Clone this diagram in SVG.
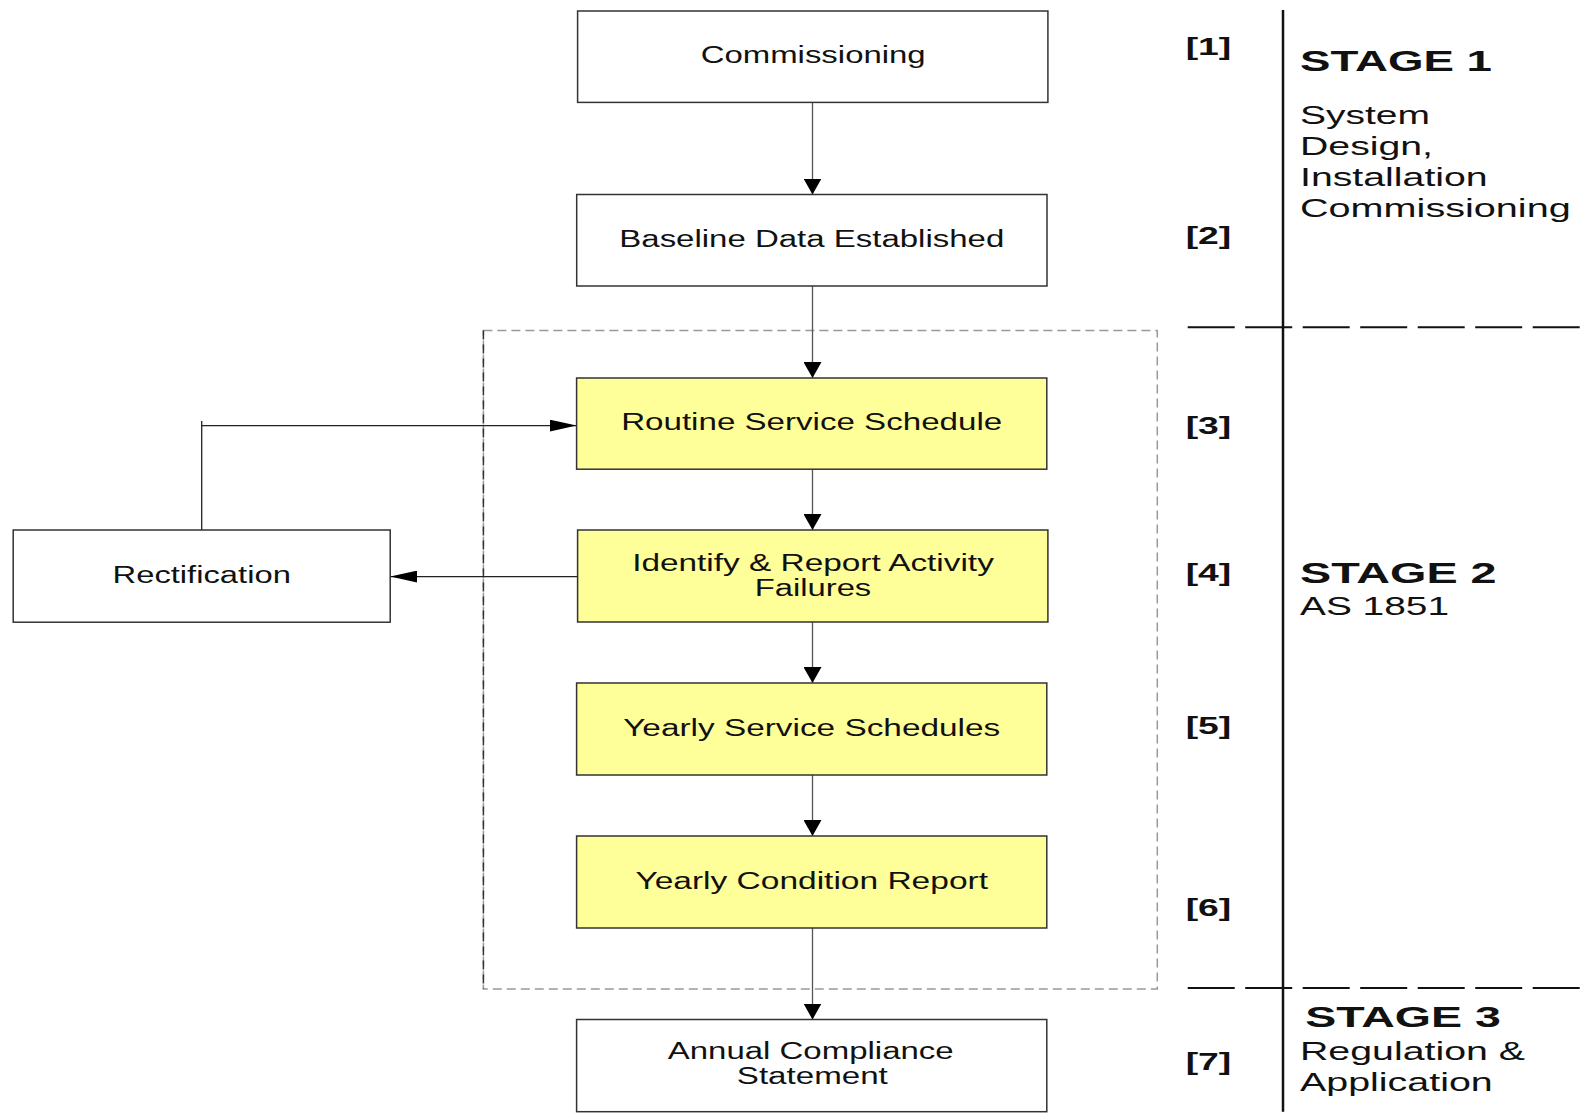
<svg xmlns="http://www.w3.org/2000/svg" width="1589" height="1117" viewBox="0 0 1589 1117">
<style>
.box{fill:#ffffff;stroke:#333333;stroke-width:1.5}
.yel{fill:#ffff99;stroke:#333333;stroke-width:1.5}
.t{font-family:"Liberation Sans",Arial,sans-serif;font-size:23px;fill:#111111;text-anchor:middle}
.lbl{font-family:"Liberation Sans",Arial,sans-serif;font-size:23px;font-weight:bold;fill:#111111}
.sh{font-family:"Liberation Sans",Arial,sans-serif;font-size:29px;font-weight:bold;fill:#111111}
.sb{font-family:"Liberation Sans",Arial,sans-serif;font-size:26px;fill:#111111}
.con{fill:none;stroke:#555555;stroke-width:1.3}
.conh{fill:none;stroke:#222222;stroke-width:1.3}
</style>
<defs>
<marker id="arrV" markerUnits="userSpaceOnUse" markerWidth="16" markerHeight="18" viewBox="0 0 16 18" refX="16" refY="9" orient="auto"><path d="M0,0 L16,9 L0,18 z" fill="#000"/></marker>
<marker id="arrH" markerUnits="userSpaceOnUse" markerWidth="27" markerHeight="12" viewBox="0 0 27 12" refX="27" refY="6" orient="auto"><path d="M0,0 L27,6 L0,12 z" fill="#000"/></marker>
</defs>
<rect width="1589" height="1117" fill="#ffffff"/>

<g id="stage-frame">
<rect x="483.4" y="330.4" width="673.9" height="658.6" fill="none" stroke="#999999" stroke-width="1.5" stroke-dasharray="9,5"/>
<line x1="483.4" y1="330.4" x2="483.4" y2="989" stroke="#333333" stroke-width="1.5" stroke-dasharray="9,5"/>
<line x1="1283" y1="10" x2="1283" y2="1111.7" stroke="#111111" stroke-width="2.5"/>
<line x1="1187.7" y1="327.3" x2="1580" y2="327.3" stroke="#111111" stroke-width="2" stroke-dasharray="47,10.5"/>
<line x1="1187.7" y1="988" x2="1580" y2="988" stroke="#111111" stroke-width="2" stroke-dasharray="47,10.5"/>
</g>

<g id="connectors">
<line class="con" x1="812.5" y1="102.4" x2="812.5" y2="194.5" marker-end="url(#arrV)"/>
<line class="con" x1="812.5" y1="286" x2="812.5" y2="378" marker-end="url(#arrV)"/>
<line class="con" x1="812.5" y1="469.2" x2="812.5" y2="530" marker-end="url(#arrV)"/>
<line class="con" x1="812.5" y1="622" x2="812.5" y2="683" marker-end="url(#arrV)"/>
<line class="con" x1="812.5" y1="775" x2="812.5" y2="836" marker-end="url(#arrV)"/>
<line class="con" x1="812.5" y1="928" x2="812.5" y2="1019.5" marker-end="url(#arrV)"/>
<path class="conh" d="M201.7,530 V421 M201.7,425.6 H576.6" marker-end="url(#arrH)"/>
<path class="conh" d="M577.6,576.6 H390.2" marker-end="url(#arrH)"/>
</g>

<g id="n1"><rect class="box" x="577.6" y="11" width="470.3" height="91.4"/><text class="t" x="813.2" y="63" textLength="225" lengthAdjust="spacingAndGlyphs">Commissioning</text></g>
<g id="n2"><rect class="box" x="576.7" y="194.5" width="470.3" height="91.5"/><text class="t" x="811.8" y="247" textLength="385" lengthAdjust="spacingAndGlyphs">Baseline Data Established</text></g>
<g id="n3"><rect class="yel" x="576.6" y="378" width="470.2" height="91.2"/><text class="t" x="811.7" y="429.6" textLength="381" lengthAdjust="spacingAndGlyphs">Routine Service Schedule</text></g>
<g id="n4"><rect class="yel" x="577.6" y="530" width="470.3" height="92"/><text class="t" x="813" y="570.5" textLength="361.7" lengthAdjust="spacingAndGlyphs">Identify &amp; Report Activity</text><text class="t" x="813" y="596" textLength="116.5" lengthAdjust="spacingAndGlyphs">Failures</text></g>
<g id="n5"><rect class="yel" x="576.6" y="683" width="470.2" height="92"/><text class="t" x="811.7" y="735.6" textLength="377" lengthAdjust="spacingAndGlyphs">Yearly Service Schedules</text></g>
<g id="n6"><rect class="yel" x="576.6" y="836" width="470.2" height="92"/><text class="t" x="811.7" y="888.6" textLength="352.6" lengthAdjust="spacingAndGlyphs">Yearly Condition Report</text></g>
<g id="n7"><rect class="box" x="576.6" y="1019.5" width="470.2" height="92.2"/><text class="t" x="810.7" y="1059" textLength="285.8" lengthAdjust="spacingAndGlyphs">Annual Compliance</text><text class="t" x="812.3" y="1084" textLength="151" lengthAdjust="spacingAndGlyphs">Statement</text></g>
<g id="rect"><rect class="box" x="13.2" y="530" width="377" height="92.2"/><text class="t" x="201.7" y="582.6" textLength="178.3" lengthAdjust="spacingAndGlyphs">Rectification</text></g>

<g id="labels">
<text class="lbl" x="1185.7" y="54.6" textLength="45.6" lengthAdjust="spacingAndGlyphs">[1]</text>
<text class="lbl" x="1185.7" y="244" textLength="45.6" lengthAdjust="spacingAndGlyphs">[2]</text>
<text class="lbl" x="1185.7" y="433.6" textLength="45.6" lengthAdjust="spacingAndGlyphs">[3]</text>
<text class="lbl" x="1185.7" y="580.6" textLength="45.6" lengthAdjust="spacingAndGlyphs">[4]</text>
<text class="lbl" x="1185.7" y="733.6" textLength="45.6" lengthAdjust="spacingAndGlyphs">[5]</text>
<text class="lbl" x="1185.7" y="916" textLength="45.6" lengthAdjust="spacingAndGlyphs">[6]</text>
<text class="lbl" x="1185.7" y="1070" textLength="45.6" lengthAdjust="spacingAndGlyphs">[7]</text>
</g>

<g id="stage1">
<text class="sh" x="1300" y="71" textLength="192" lengthAdjust="spacingAndGlyphs">STAGE 1</text>
<text class="sb" x="1300" y="124" textLength="130" lengthAdjust="spacingAndGlyphs">System</text>
<text class="sb" x="1300" y="155" textLength="133" lengthAdjust="spacingAndGlyphs">Design,</text>
<text class="sb" x="1300" y="185.5" textLength="187.7" lengthAdjust="spacingAndGlyphs">Installation</text>
<text class="sb" x="1300" y="217" textLength="270.7" lengthAdjust="spacingAndGlyphs">Commissioning</text>
</g>
<g id="stage2">
<text class="sh" x="1300" y="583" textLength="196.6" lengthAdjust="spacingAndGlyphs">STAGE 2</text>
<text class="sb" x="1300" y="615" textLength="149" lengthAdjust="spacingAndGlyphs">AS 1851</text>
</g>
<g id="stage3">
<text class="sh" x="1305.3" y="1027" textLength="195.5" lengthAdjust="spacingAndGlyphs">STAGE 3</text>
<text class="sb" x="1300" y="1060" textLength="225" lengthAdjust="spacingAndGlyphs">Regulation &amp;</text>
<text class="sb" x="1300" y="1091" textLength="192.7" lengthAdjust="spacingAndGlyphs">Application</text>
</g>
</svg>
